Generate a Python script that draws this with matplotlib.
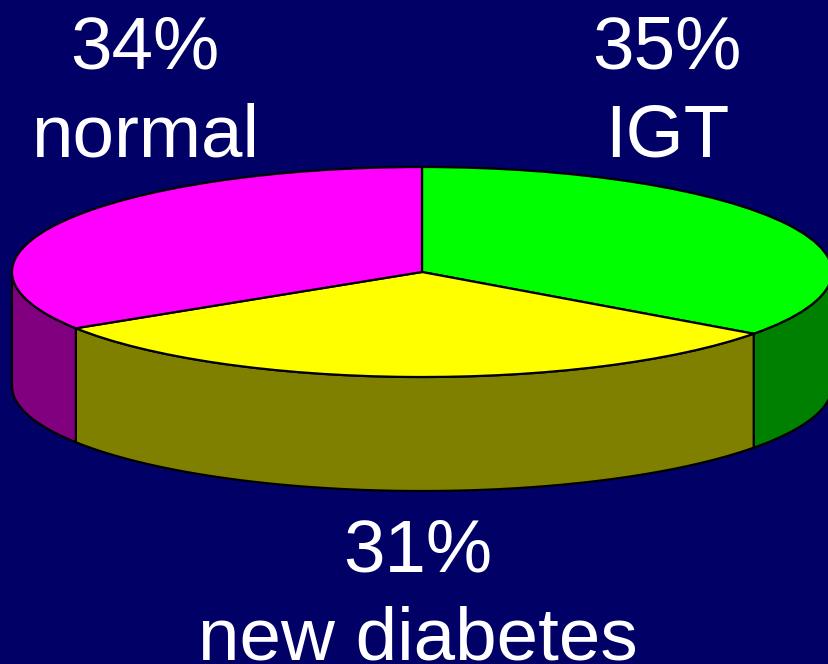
import matplotlib

matplotlib.use("Agg")
import matplotlib.pyplot as plt
import numpy as np

labels = ["35%\nIGT", "31%\nnew diabetes", "34%\nnormal"]
shares = [35, 31, 34]
top_colors = ["#00ff00", "#ffff00", "#ff00ff"]
side_colors = ["#008000", "#808000", "#800080"]

BG = "#000066"
W, H = 829, 664
CX, CY = 422, 272  # pie centre in pixels
RX, RY = 410, 105
DEPTH = 114 / RY
LW = 1.6

plt.rcParams["font.family"] = ["Liberation Sans", "DejaVu Sans"]

fig = plt.figure(figsize=(W / 100, H / 100), dpi=100, facecolor=BG)
ax = fig.add_axes([0, 0, 1, 1])

# top face: a unit pie squashed by the axes limits
wedges, _ = ax.pie(
    shares,
    colors=top_colors,
    startangle=90,
    counterclock=False,
    radius=1,
    wedgeprops={"edgecolor": "black", "linewidth": LW, "zorder": 3},
)
ax.set_aspect("auto")
ax.set_xlim(-CX / RX, (W - CX) / RX)
ax.set_ylim(-(H - CY) / RY, CY / RY)
ax.set_axis_off()

# side wall, only the part of each slice facing the viewer
edges = 90 - 360 * np.cumsum([0] + shares) / sum(shares)
for start, end, color in zip(edges[:-1], edges[1:], side_colors):
    lo, hi = max(end, -180), min(start, 0)
    if hi <= lo:
        continue
    t = np.radians(np.linspace(lo, hi, 120))
    x = np.cos(t)
    y = np.sin(t)
    xs = np.concatenate([x, x[::-1]])
    ys = np.concatenate([y, y[::-1] - DEPTH])
    ax.fill(xs, ys, facecolor=color, edgecolor="black", linewidth=LW, zorder=2)

text_pos = [(667, 93), (418, 596), (145, 93)]
for label, (px, py) in zip(labels, text_pos):
    fig.text(
        px / W,
        1 - py / H,
        label,
        color="white",
        fontsize=53.7,
        ha="center",
        va="center",
        linespacing=1.355,
    )

fig.savefig("out.png", dpi=100, facecolor=BG)
